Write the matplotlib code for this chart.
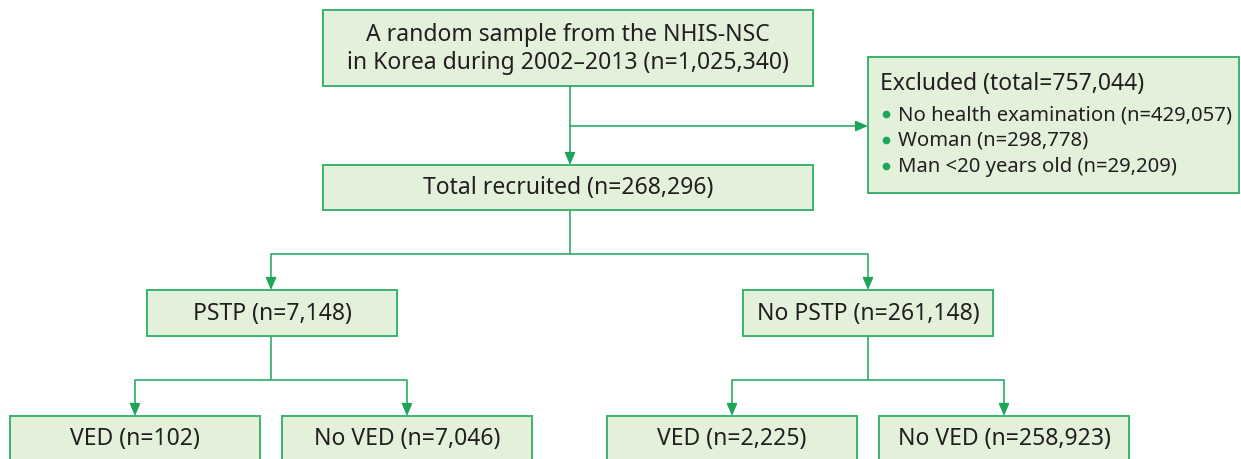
import matplotlib
matplotlib.use("Agg")
import matplotlib.pyplot as plt
from matplotlib.patches import Rectangle

plt.rcParams['font.family'] = ['Noto Sans', 'DejaVu Sans']

# textos del diagrama
top_label = "A random sample from the NHIS-NSC\nin Korea during 2002\u20132013 (n=1,025,340)"
total_label = "Total recruited (n=268,296)"
excluded_title = "Excluded (total=757,044)"
excluded_items = ["No health examination (n=429,057)",
                  "Woman (n=298,778)",
                  "Man <20 years old (n=29,209)"]
group_labels = ["PSTP (n=7,148)", "No PSTP (n=261,148)"]
sub_labels = ["VED (n=102)", "No VED (n=7,046)",
              "VED (n=2,225)", "No VED (n=258,923)"]

FILL = "#e4f1da"
EDGE = "#3bb36c"
LINE = "#1ea55a"
TXT = "#231f20"
FS = 16.5

fig = plt.figure(figsize=(12.41, 4.60), dpi=100)
ax = fig.add_axes([0, 0, 1, 1])
ax.set_xlim(0, 1241)
ax.set_ylim(460, 0)
ax.axis('off')


def caja(x0, y0, x1, y1, texto=None):
    ax.add_patch(Rectangle((x0, y0), x1 - x0, y1 - y0, facecolor=FILL,
                           edgecolor=EDGE, linewidth=1.4, zorder=2))
    if texto:
        ax.text((x0 + x1) / 2, (y0 + y1) / 2, texto, ha='center', va='center',
                fontsize=FS, color=TXT, linespacing=1.2, zorder=3)


def linea(xs, ys):
    ax.plot(xs, ys, color=LINE, linewidth=1.1, solid_capstyle='butt', zorder=1)


def flecha(x0, y0, x1, y1):
    ax.annotate("", xy=(x1, y1), xytext=(x0, y0),
                arrowprops=dict(arrowstyle='-|>,head_length=0.75,head_width=0.32',
                                color=LINE, lw=1.1, shrinkA=0, shrinkB=0), zorder=4)


# caja superior y reclutados
caja(323, 11, 813, 87, top_label)
caja(323, 166, 813, 211, total_label)
flecha(570, 87, 570, 166)
flecha(570, 127, 868, 127)

# caja de excluidos
caja(868, 58, 1239, 194)
ax.text(880, 84, excluded_title, ha='left', va='center', fontsize=FS, color=TXT, zorder=3)
for i, item in enumerate(excluded_items):
    yy = 115 + i * 26
    ax.plot(886, yy, 'o', color=LINE, markersize=4.5, zorder=3)
    ax.text(898, yy, item, ha='left', va='center', fontsize=14.6, color=TXT, zorder=3)

# nivel PSTP
linea([570, 570], [211, 255])
linea([271, 868], [255, 255])
flecha(271, 255, 271, 291)
flecha(868, 255, 868, 291)
caja(147, 291, 397, 337, group_labels[0])
caja(743, 291, 993, 337, group_labels[1])

# nivel VED
sub_boxes = [(10, 260), (282, 532), (607, 857), (879, 1129)]
for cx, (a, b) in zip([271, 868], [(0, 1), (2, 3)]):
    xa = (sub_boxes[a][0] + sub_boxes[a][1]) / 2
    xb = (sub_boxes[b][0] + sub_boxes[b][1]) / 2
    linea([cx, cx], [337, 381])
    linea([xa, xb], [381, 381])
    flecha(xa, 381, xa, 417)
    flecha(xb, 381, xb, 417)
for (x0, x1), lab in zip(sub_boxes, sub_labels):
    caja(x0, 417, x1, 480, None)
    ax.text((x0 + x1) / 2, 439, lab, ha='center', va='center',
            fontsize=FS, color=TXT, zorder=3)

fig.savefig("out.png", dpi=100)
